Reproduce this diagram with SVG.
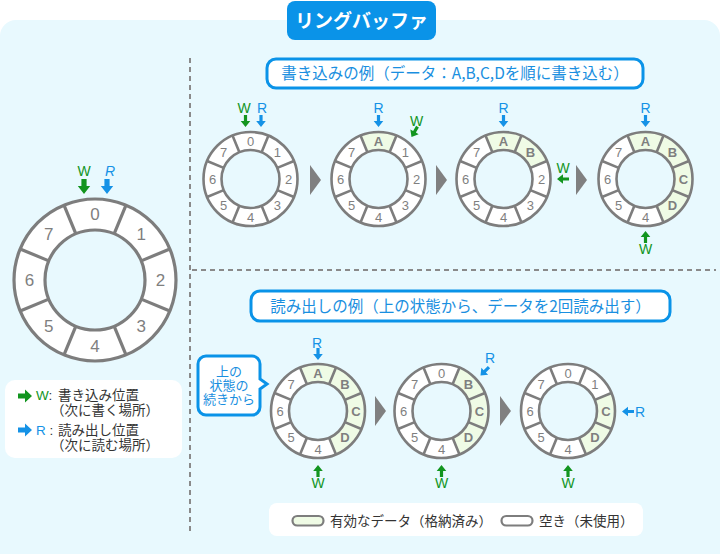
<svg xmlns="http://www.w3.org/2000/svg" xmlns:xlink="http://www.w3.org/1999/xlink" width="720" height="554" viewBox="0 0 720 554">
<style>
text{font-family:"Liberation Sans","Noto Sans CJK JP",sans-serif}
.jp{font-family:"Noto Sans CJK JP","Liberation Sans",sans-serif}
.dg{fill:#7f7f7f;font-size:13px;text-anchor:middle}
.dgb{fill:#7f7f7f;font-size:17px;text-anchor:middle}
.lt{fill:#7f7f7f;font-size:13px;font-weight:bold;text-anchor:middle}
.wl{fill:#12951f;font-size:14px;text-anchor:middle}
.rl{fill:#1592e6;font-size:14px;text-anchor:middle}
.wa{fill:#12951f}
.ra{fill:#1592e6}
.hd{fill:#1a8fe0;font-size:15.5px;text-anchor:middle}
.box{fill:#fff;stroke:#0a93e8;stroke-width:3}
.tri{fill:#808080}
.dash{stroke:#8a8a8a;stroke-width:2;stroke-dasharray:5 4;fill:none}
.lg{fill:#333;font-size:13.5px}
.co{fill:#1a8fe0;font-size:13px;text-anchor:middle}
</style>
<defs>
<path id="arS" d="M-1.6,-12 h3.2 v6 h3.2 L0,0 L-4.8,-6 h3.2 z"/>
<path id="arB" d="M-2.6,-15 h5.2 v7 h3.6 L0,0 L-6.2,-8 h3.6 z"/>
<g id="sFill"><circle r="47" fill="#fff"/></g>
<path id="sSec" d="M-17.99,-43.42 A47,47 0 0 1 17.99,-43.42 L11.1,-26.79 A29,29 0 0 0 -11.1,-26.79 Z" fill="#effbe5"/>
<g id="sLine" stroke="#7d7d7d" stroke-width="2.6">
<circle r="47" fill="none"/>
<circle r="29" fill="#e8f9fe"/>
<path d="M11.1,-26.79L17.99,-43.42M26.79,-11.1L43.42,-17.99M26.79,11.1L43.42,17.99M11.1,26.79L17.99,43.42M-11.1,26.79L-17.99,43.42M-26.79,11.1L-43.42,17.99M-26.79,-11.1L-43.42,-17.99M-11.1,-26.79L-17.99,-43.42" fill="none"/>
</g>
</defs>

<rect x="0" y="20" width="720" height="560" rx="16" fill="#e8f9fe"/>

<g id="title">
<rect x="287" y="1" width="149" height="39" rx="8" fill="#0a93e8"/>
<text x="361.5" y="28" class="jp" font-size="19" font-weight="bold" fill="#fff" text-anchor="middle">リングバッファ</text>
</g>

<g id="dividers">
<line class="dash" x1="190" y1="58" x2="190" y2="532"/>
<line class="dash" x1="192" y1="270" x2="716" y2="270"/>
</g>

<g id="bigRing" transform="translate(95,280)">
<circle r="81" fill="#fff" stroke="#7d7d7d" stroke-width="3.2"/>
<circle r="50" fill="#e8f9fe" stroke="#7d7d7d" stroke-width="3.2"/>
<path stroke="#7d7d7d" stroke-width="3.2" fill="none" d="M19.13,-46.19L31,-74.83M46.19,-19.13L74.83,-31M46.19,19.13L74.83,31M19.13,46.19L31,74.83M-19.13,46.19L-31,74.83M-46.19,19.13L-74.83,31M-46.19,-19.13L-74.83,-31M-19.13,-46.19L-31,-74.83"/>
<text class="dgb" x="0" y="-60">0</text>
<text class="dgb" x="46.3" y="-40.3">1</text>
<text class="dgb" x="65.5" y="6">2</text>
<text class="dgb" x="46.3" y="52.3">3</text>
<text class="dgb" x="0" y="71.5">4</text>
<text class="dgb" x="-46.3" y="52.3">5</text>
<text class="dgb" x="-65.5" y="6">6</text>
<text class="dgb" x="-46.3" y="-40.3">7</text>
</g>
<g id="bigPointers">
<text x="84" y="176" class="wl">W</text>
<text x="110" y="176" class="rl" font-style="italic">R</text>
<use href="#arB" class="wa" transform="translate(84,194)"/>
<use href="#arB" class="ra" transform="translate(107,194)"/>
</g>

<g id="legendLeft">
<rect x="5" y="380" width="177" height="78" rx="10" fill="#fff"/>
<path class="wa" d="M18,393.5 h7 v-4 l7,6.5 l-7,6.5 v-4 h-7 z"/>
<text class="lg jp"><tspan x="36" y="400" fill="#12951f" font-family="Liberation Sans, sans-serif">W</tspan><tspan font-family="Liberation Sans, sans-serif">:</tspan><tspan x="58" y="400">書き込み位置</tspan><tspan x="51" y="415">（次に書く場所）</tspan></text>
<path class="ra" d="M18,427.5 h7 v-4 l7,6.5 l-7,6.5 v-4 h-7 z"/>
<text class="lg jp"><tspan x="36" y="435" fill="#1592e6" font-family="Liberation Sans, sans-serif">R</tspan><tspan font-family="Liberation Sans, sans-serif"> :</tspan><tspan x="58" y="435">読み出し位置</tspan><tspan x="51" y="450">（次に読む場所）</tspan></text>
</g>

<g id="headerWrite">
<rect class="box" x="267" y="59" width="376" height="29" rx="9"/>
<text class="hd jp" x="455" y="79">書き込みの例（データ：A,B,C,Dを順に書き込む）</text>
</g>

<g id="headerRead">
<rect class="box" x="251" y="291" width="419" height="30" rx="9"/>
<text class="hd jp" x="460.5" y="311.5">読み出しの例（上の状態から、データを2回読み出す）</text>
</g>

<g id="callout">
<path class="box" d="M206,356 H252 A8,8 0 0 1 260,364 V379 L267,384 L260,389 V407 A8,8 0 0 1 252,415 H206 A8,8 0 0 1 198,407 V364 A8,8 0 0 1 206,356 Z"/>
<text class="co jp"><tspan x="229" y="376">上の</tspan><tspan x="229" y="390">状態の</tspan><tspan x="229" y="404">続きから</tspan></text>
</g>

<!-- top row -->
<g id="w1" transform="translate(250.5,179)">
<use href="#sFill"/><use href="#sLine"/>
<text class="dg" x="0" y="-33.5">0</text><text class="dg" x="26.9" y="-22.4">1</text><text class="dg" x="38" y="4.5">2</text><text class="dg" x="26.9" y="31.4">3</text><text class="dg" x="0" y="42.5">4</text><text class="dg" x="-26.9" y="31.4">5</text><text class="dg" x="-38" y="4.5">6</text><text class="dg" x="-26.9" y="-22.4">7</text>
</g>
<g id="w2" transform="translate(378.5,179)">
<use href="#sFill"/><use href="#sSec"/><use href="#sLine"/>
<text class="lt" x="0" y="-33.5">A</text><text class="dg" x="26.9" y="-22.4">1</text><text class="dg" x="38" y="4.5">2</text><text class="dg" x="26.9" y="31.4">3</text><text class="dg" x="0" y="42.5">4</text><text class="dg" x="-26.9" y="31.4">5</text><text class="dg" x="-38" y="4.5">6</text><text class="dg" x="-26.9" y="-22.4">7</text>
</g>
<g id="w3" transform="translate(503.5,179)">
<use href="#sFill"/><use href="#sSec"/><use href="#sSec" transform="rotate(45)"/><use href="#sLine"/>
<text class="lt" x="0" y="-33.5">A</text><text class="lt" x="26.9" y="-22.4">B</text><text class="dg" x="38" y="4.5">2</text><text class="dg" x="26.9" y="31.4">3</text><text class="dg" x="0" y="42.5">4</text><text class="dg" x="-26.9" y="31.4">5</text><text class="dg" x="-38" y="4.5">6</text><text class="dg" x="-26.9" y="-22.4">7</text>
</g>
<g id="w4" transform="translate(645.5,179)">
<use href="#sFill"/><use href="#sSec"/><use href="#sSec" transform="rotate(45)"/><use href="#sSec" transform="rotate(90)"/><use href="#sSec" transform="rotate(135)"/><use href="#sLine"/>
<text class="lt" x="0" y="-33.5">A</text><text class="lt" x="26.9" y="-22.4">B</text><text class="lt" x="38" y="4.5">C</text><text class="lt" x="26.9" y="31.4">D</text><text class="dg" x="0" y="42.5">4</text><text class="dg" x="-26.9" y="31.4">5</text><text class="dg" x="-38" y="4.5">6</text><text class="dg" x="-26.9" y="-22.4">7</text>
</g>

<!-- bottom row -->
<g id="r1" transform="translate(318,411)">
<use href="#sFill"/><use href="#sSec"/><use href="#sSec" transform="rotate(45)"/><use href="#sSec" transform="rotate(90)"/><use href="#sSec" transform="rotate(135)"/><use href="#sLine"/>
<text class="lt" x="0" y="-33.5">A</text><text class="lt" x="26.9" y="-22.4">B</text><text class="lt" x="38" y="4.5">C</text><text class="lt" x="26.9" y="31.4">D</text><text class="dg" x="0" y="42.5">4</text><text class="dg" x="-26.9" y="31.4">5</text><text class="dg" x="-38" y="4.5">6</text><text class="dg" x="-26.9" y="-22.4">7</text>
</g>
<g id="r2" transform="translate(441.5,411)">
<use href="#sFill"/><use href="#sSec" transform="rotate(45)"/><use href="#sSec" transform="rotate(90)"/><use href="#sSec" transform="rotate(135)"/><use href="#sLine"/>
<text class="dg" x="0" y="-33.5">0</text><text class="lt" x="26.9" y="-22.4">B</text><text class="lt" x="38" y="4.5">C</text><text class="lt" x="26.9" y="31.4">D</text><text class="dg" x="0" y="42.5">4</text><text class="dg" x="-26.9" y="31.4">5</text><text class="dg" x="-38" y="4.5">6</text><text class="dg" x="-26.9" y="-22.4">7</text>
</g>
<g id="r3" transform="translate(568,411)">
<use href="#sFill"/><use href="#sSec" transform="rotate(90)"/><use href="#sSec" transform="rotate(135)"/><use href="#sLine"/>
<text class="dg" x="0" y="-33.5">0</text><text class="dg" x="26.9" y="-22.4">1</text><text class="lt" x="38" y="4.5">C</text><text class="lt" x="26.9" y="31.4">D</text><text class="dg" x="0" y="42.5">4</text><text class="dg" x="-26.9" y="31.4">5</text><text class="dg" x="-38" y="4.5">6</text><text class="dg" x="-26.9" y="-22.4">7</text>
</g>

<g id="connectors">
<polygon class="tri" points="310,165 321,180 310,195"/>
<polygon class="tri" points="436,165 447,180 436,195"/>
<polygon class="tri" points="576,165 587,180 576,195"/>
<polygon class="tri" points="375,396 386,411 375,426"/>
<polygon class="tri" points="500,396 511,411 500,426"/>
</g>

<g id="pointers">
<text x="244" y="113" class="wl">W</text>
<text x="262" y="113" class="rl">R</text>
<use href="#arS" class="wa" transform="translate(245.5,127)"/>
<use href="#arS" class="ra" transform="translate(261,127)"/>

<text x="378.5" y="113" class="rl">R</text>
<use href="#arS" class="ra" transform="translate(378.5,127)"/>
<text x="416.5" y="126" class="wl">W</text>
<use href="#arS" class="wa" transform="translate(411.5,137) rotate(30)"/>

<text x="503.5" y="113" class="rl">R</text>
<use href="#arS" class="ra" transform="translate(503.5,127)"/>
<text x="563" y="173" class="wl">W</text>
<use href="#arS" class="wa" transform="translate(557,179) rotate(90)"/>

<text x="645.5" y="113" class="rl">R</text>
<use href="#arS" class="ra" transform="translate(645.5,127)"/>
<use href="#arS" class="wa" transform="translate(645.5,231) rotate(180)"/>
<text x="645.5" y="254" class="wl">W</text>

<text x="317" y="348" class="rl">R</text>
<use href="#arS" class="ra" transform="translate(318,360)"/>
<use href="#arS" class="wa" transform="translate(318,465) rotate(180)"/>
<text x="318" y="488" class="wl">W</text>

<text x="490" y="363" class="rl">R</text>
<use href="#arS" class="ra" transform="translate(480.5,375.5) rotate(45)"/>
<use href="#arS" class="wa" transform="translate(441.5,465) rotate(180)"/>
<text x="441.5" y="488" class="wl">W</text>

<use href="#arS" class="ra" transform="translate(622,411.5) rotate(90)"/>
<text x="640" y="417" class="rl">R</text>
<use href="#arS" class="wa" transform="translate(568,465) rotate(180)"/>
<text x="568" y="488" class="wl">W</text>
</g>

<g id="legendBottom">
<rect x="269" y="503" width="374" height="33" rx="8" fill="#fff"/>
<rect x="292.5" y="516" width="31" height="9.5" rx="4.75" fill="#effbe5" stroke="#7d7d7d" stroke-width="2.2"/>
<text x="330" y="526" class="lg jp">有効なデータ（格納済み）</text>
<rect x="501.5" y="516" width="31" height="9.5" rx="4.75" fill="#fff" stroke="#7d7d7d" stroke-width="2.2"/>
<text x="539" y="526" class="lg jp">空き（未使用）</text>
</g>
</svg>
